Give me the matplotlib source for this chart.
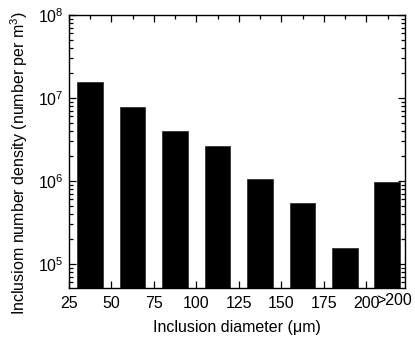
import numpy as np
import matplotlib
matplotlib.use("Agg")
import matplotlib.pyplot as plt
from matplotlib.ticker import MultipleLocator, LogLocator, NullFormatter

plt.rcParams['font.family'] = ['Liberation Sans', 'DejaVu Sans']
plt.rcParams['mathtext.fontset'] = 'custom'
plt.rcParams['mathtext.rm'] = 'Liberation Sans'
plt.rcParams['mathtext.it'] = 'Liberation Sans:italic'

# bar centres (um) and number densities (per m^3)
centres = [37.5, 62.5, 87.5, 112.5, 137.5, 162.5, 187.5, 212.0]
density = [1.55e7, 7.7e6, 4.0e6, 2.6e6, 1.06e6, 5.4e5, 1.55e5, 9.7e5]
bar_width = 15
xticks = [25, 50, 75, 100, 125, 150, 175, 200]
last_label = ">200"

fs = 11.5
fig = plt.figure(figsize=(4.15, 3.4), dpi=100)
ax = fig.add_axes([0.166, 0.153, 0.81, 0.803])

ax.bar(centres, density, width=bar_width, color='black', edgecolor='#333333', linewidth=0.6)

ax.set_yscale('log')
ax.set_ylim(5.1e4, 1e8)
ax.set_xlim(25, 222.7)
ax.set_xticks(xticks)
ax.xaxis.set_minor_locator(MultipleLocator(12.5))
ax.yaxis.set_major_locator(LogLocator(base=10, numticks=10))
ax.yaxis.set_minor_locator(LogLocator(base=10, subs=np.arange(2, 10), numticks=20))
ax.yaxis.set_minor_formatter(NullFormatter())

ax.tick_params(which='both', direction='in', top=True, right=True, labelsize=fs, width=0.9)
ax.tick_params(which='major', length=5)
ax.tick_params(axis='x', which='major', pad=6)
ax.tick_params(which='minor', length=3)
for s in ax.spines.values():
    s.set_linewidth(1.0)

# ">200" label sits a little higher than the numeric tick labels
ax.text(216.5, -0.02, last_label, transform=ax.get_xaxis_transform(),
        ha='center', va='top', fontsize=fs)

ax.set_xlabel('Inclusion diameter (\u03bcm)', fontsize=fs, labelpad=6)
ax.set_ylabel('Inclusiom number density (number per m$^3$)', fontsize=fs)
ax.yaxis.set_label_coords(-0.115, 0.458)

fig.savefig('out.png', dpi=100)
